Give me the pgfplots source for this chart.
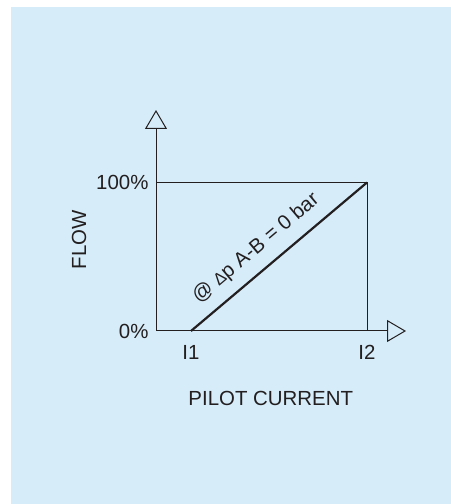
\documentclass[border=0pt]{standalone}
\usepackage{fontspec}
\setmainfont{Liberation Sans}
\usepackage{pgfplots}
\pgfplotsset{compat=1.18}
\usetikzlibrary{arrows.meta}
\definecolor{bgblue}{RGB}{214,236,249}
\definecolor{ink}{RGB}{35,31,32}
\begin{document}
\begin{tikzpicture}
\useasboundingbox (0,0) rectangle (451bp,504bp);
\fill[white] (0,0) rectangle (451bp,504bp);
\fill[bgblue] (11bp,0) rectangle (451bp,497bp);
\begin{axis}[
  at={(156bp,173bp)}, anchor=south west,
  scale only axis, width=250bp, height=221bp,
  xmin=0.80114, xmax=2.2216, ymin=0, ymax=148.8,
  clip=false,
  axis lines=left,
  axis line style={ink, line width=1bp, -{Triangle[open, length=19bp, width=22bp, line width=1bp]}},
  xtick={1,2}, xticklabels={I1,I2},
  ytick={0,100}, yticklabels={0\%,100\%},
  major tick length=0pt, tick style={draw=none},
  every tick label/.append style={font=\fontsize{20.5}{24}\selectfont, text=ink},
  xticklabel style={yshift=-11bp},
  yticklabel style={xshift=-4bp},
  xlabel={PILOT CURRENT}, ylabel={FLOW},
  label style={font=\fontsize{20.5}{24}\selectfont, text=ink},
  xlabel style={at={(rel axis cs:0.459,-0.305)}, anchor=center},
  ylabel style={at={(rel axis cs:-0.308,0.414)}, anchor=center},
]
\addplot[ink, line width=1bp] coordinates {(0.80114,100) (2,100) (2,0)};
\addplot[ink, line width=2.2bp] coordinates {(1,0) (2,100)};
\node[rotate=40.16, text=ink, font=\fontsize{20.5}{24}\selectfont] at (axis cs:1.37,55.5) {@ {\fontsize{17}{20}\selectfont Δ}p A-B = 0 bar};
\end{axis}
\end{tikzpicture}
\end{document}
